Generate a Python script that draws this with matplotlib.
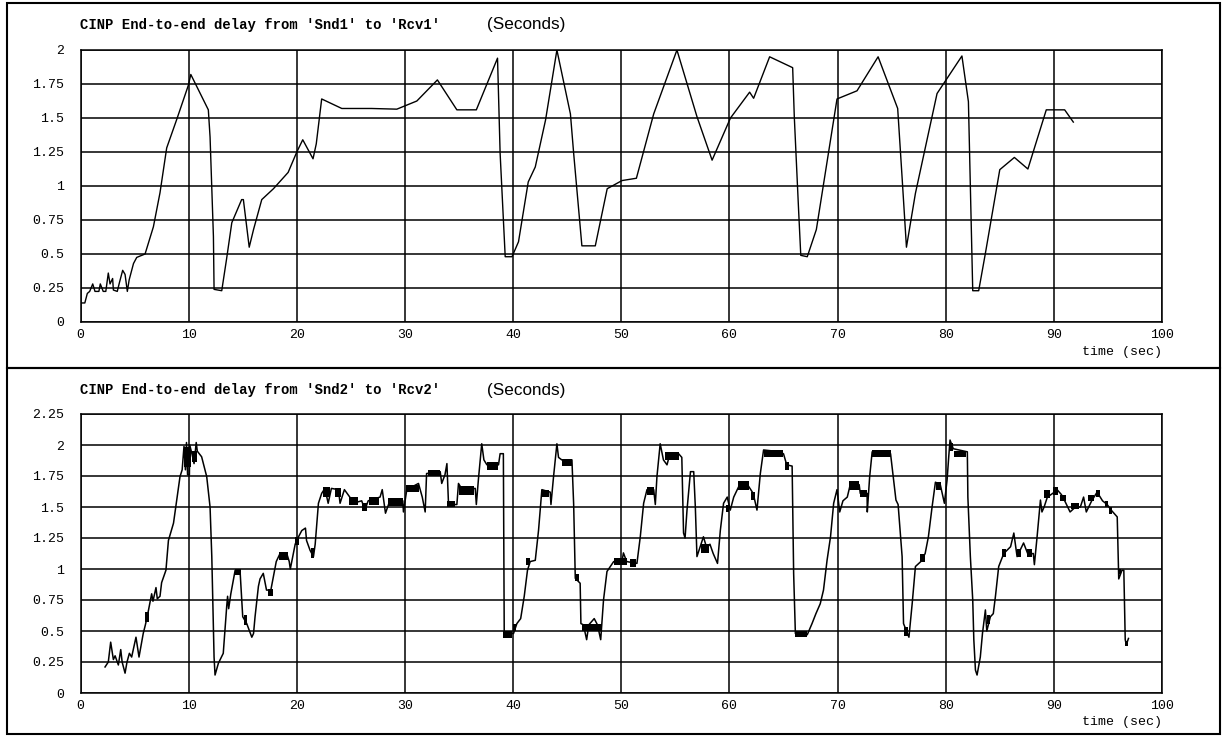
import matplotlib
matplotlib.use('Agg')
import matplotlib.pyplot as plt
from matplotlib.patches import Rectangle

# Snd1 -> Rcv1 delay (sec)
top_t = [0.1, 0.4, 0.63, 0.85, 1.13, 1.34, 1.7, 1.83, 2.1, 2.34, 2.57, 2.73, 2.97, 3.04,
         3.4, 3.6, 3.9, 4.12, 4.33, 4.5, 4.9, 5.2, 5.97, 6.74, 7.35, 7.97, 8.9, 9.97, 10.2,
         11.82, 11.98, 12.29, 12.35, 13.06, 13.5, 13.99, 14.9, 15.06, 15.6, 16.0, 16.76,
         17.84, 19.2, 20.0, 20.55, 21.5, 21.8, 22.3, 24.16, 26.9, 29.25, 31.1, 33.0, 34.8,
         36.6, 38.56, 38.8, 39.27, 39.9, 40.5, 41.4, 42.05, 43.0, 44.05, 45.3, 45.6, 46.36,
         47.6, 48.7, 50.07, 51.4, 53.0, 55.15, 57.0, 58.4, 60.1, 61.87, 62.24, 63.72, 65.85,
         66.0, 66.4, 66.6, 67.2, 68.04, 69.95, 71.8, 73.75, 75.56, 75.97, 76.37, 77.2, 79.2,
         81.5, 82.1, 82.5, 83.05, 83.67, 85.0, 86.35, 87.6, 89.3, 91.0, 91.8]
top_d = [0.14, 0.14, 0.21, 0.225, 0.28, 0.225, 0.225, 0.28, 0.225, 0.225, 0.36, 0.28, 0.32, 0.235,
         0.225, 0.29, 0.38, 0.35, 0.225, 0.31, 0.43, 0.475, 0.5, 0.70, 0.95, 1.28, 1.49, 1.74, 1.82,
         1.56, 1.36, 0.63, 0.24, 0.23, 0.46, 0.73, 0.9, 0.9, 0.55, 0.68, 0.9,
         0.98, 1.1, 1.25, 1.34, 1.2, 1.31, 1.64, 1.57, 1.57, 1.565, 1.625, 1.78, 1.56,
         1.56, 1.94, 1.24, 0.48, 0.48, 0.59, 1.03, 1.14, 1.485, 2.0, 1.53, 1.24, 0.56,
         0.56, 0.98, 1.04, 1.057, 1.53, 2.0, 1.51, 1.19, 1.50, 1.69, 1.645, 1.95, 1.87,
         1.51, 0.82, 0.49, 0.48, 0.68, 1.64, 1.70, 1.95, 1.57, 1.06, 0.55, 0.946, 1.68,
         1.956, 1.62, 0.23, 0.23, 0.505, 1.12, 1.21, 1.125, 1.56, 1.56, 1.47]

# Snd2 -> Rcv2 delay (sec)
bot_t = [2.27, 2.57, 2.79, 3.04, 3.2, 3.5, 3.72, 3.85, 4.12, 4.3, 4.52, 4.73, 5.13, 5.41, 5.8,
         6.0, 6.18, 6.4, 6.58, 6.7, 6.98, 7.1, 7.35, 7.5, 7.9, 8.13, 8.6, 8.9, 9.2, 9.4, 9.57,
         9.7, 9.8, 9.9, 10.07, 10.1, 10.3, 10.5, 10.7, 10.8, 11.2, 11.67, 11.98, 12.14, 12.35,
         12.44, 12.75, 13.2, 13.52, 13.6, 13.7, 13.9, 14.3, 14.75, 15.0, 15.37, 15.84, 16.0,
         16.14, 16.45, 16.6, 16.9, 17.2, 17.6, 17.84, 18.1, 18.45, 19.07, 19.3, 19.4, 19.85,
         20.1, 20.46, 20.8, 20.9, 21.23, 21.54, 21.7, 21.85, 22.0, 22.3, 22.6, 22.9, 23.2,
         23.85, 24.0, 24.4, 24.9, 25.2, 26.0, 26.3, 26.6, 27.7, 27.9, 28.2, 28.6, 29.8, 29.86,
         30.17, 31.25, 31.6, 31.87, 32.0, 33.26, 33.4, 33.7, 33.88, 34.03, 34.8, 34.95, 35.3,
         36.5, 36.6, 36.8, 37.1, 37.3, 37.58, 38.65, 38.8, 39.1, 39.18, 40.04, 40.35, 40.7,
         41.03, 41.33, 41.58, 42.05, 42.35, 42.66, 43.43, 43.5, 43.74, 44.05, 44.2, 44.5,
         45.44, 45.6, 45.75, 46.2, 46.27, 46.5, 46.8, 47.0, 47.5, 47.8, 48.1, 48.2, 48.36,
         48.68, 49.3, 50.07, 50.2, 50.5, 51.45, 51.76, 52.07, 52.38, 53.0, 53.15, 53.3, 53.6,
         53.9, 54.23, 54.5, 55.3, 55.6, 55.76, 55.9, 56.08, 56.4, 56.7, 56.85, 57.0, 57.6,
         57.9, 58.2, 58.5, 58.9, 59.16, 59.46, 59.8, 60.08, 60.4, 61.0, 61.6, 62.2, 62.55,
         62.86, 63.16, 64.2, 65.0, 65.3, 65.8, 65.94, 66.1, 67.2, 67.64, 68.0, 68.4, 68.7,
         69.03, 69.35, 69.64, 69.95, 70.2, 70.5, 70.9, 71.2, 72.0, 72.1, 72.73, 72.75, 72.97,
         73.2, 74.9, 75.4, 75.6, 75.8, 75.97, 76.1, 76.6, 76.9, 77.2, 77.7, 78.1, 78.4, 78.74,
         79.05, 79.5, 79.88, 80.13, 80.28, 80.4, 80.7, 82.0, 82.05, 82.28, 82.5, 82.6, 82.75,
         82.9, 83.2, 83.4, 83.67, 83.8, 84.13, 84.4, 84.6, 84.9, 85.37, 86.0, 86.3, 86.6,
         87.2, 87.6, 88.1, 88.2, 88.45, 88.76, 88.9, 89.1, 89.4, 89.9, 90.3, 90.7, 91.06,
         91.5, 92.0, 92.45, 92.75, 93.0, 93.5, 94.0, 94.5, 94.93, 95.3, 95.86, 96.0, 96.3,
         96.47, 96.6, 96.7, 96.9]
bot_d = [0.21, 0.25, 0.41, 0.27, 0.3, 0.226, 0.35, 0.25, 0.16, 0.25, 0.32, 0.29, 0.45, 0.29, 0.48,
         0.55, 0.62, 0.72, 0.80, 0.74, 0.85, 0.76, 0.78, 0.89, 0.99, 1.23, 1.37, 1.56, 1.745, 1.8, 1.99,
         1.8, 2.02, 1.76, 1.76, 2.0, 1.93, 1.85, 2.02, 1.95, 1.905, 1.745, 1.50, 1.10, 0.29,
         0.145, 0.24, 0.32, 0.70, 0.78, 0.68, 0.8, 0.99, 0.99, 0.615, 0.56, 0.45, 0.48,
         0.615, 0.86, 0.92, 0.965, 0.83, 0.83, 0.94, 1.06, 1.125, 1.125, 1.06, 1.0, 1.2,
         1.25, 1.31, 1.33, 1.23, 1.15, 1.10, 1.2, 1.37, 1.53, 1.61, 1.65, 1.53, 1.65,
         1.64, 1.53, 1.64, 1.58, 1.53, 1.55, 1.476, 1.55, 1.58, 1.64, 1.45, 1.55, 1.55, 1.46,
         1.64, 1.69, 1.58, 1.46, 1.77, 1.785, 1.69, 1.76, 1.85, 1.52, 1.52, 1.69, 1.64,
         1.65, 1.52, 1.73, 2.01, 1.88, 1.84, 1.84, 1.93, 1.93, 0.48, 0.48, 0.56, 0.6,
         0.78, 0.99, 1.06, 1.07, 1.31, 1.64, 1.62, 1.52, 1.745, 2.01, 1.9, 1.88,
         1.88, 1.52, 0.925, 0.885, 0.56, 0.55, 0.43, 0.55, 0.6, 0.55, 0.43, 0.55, 0.75,
         0.98, 1.06, 1.06, 1.13, 1.06, 1.045, 1.26, 1.53, 1.64, 1.64, 1.52, 1.745, 2.01,
         1.88, 1.84, 1.93, 1.93, 1.9, 1.29, 1.25, 1.475, 1.785, 1.785, 1.50, 1.10, 1.26,
         1.17, 1.2, 1.125, 1.045, 1.31, 1.53, 1.58, 1.475, 1.58, 1.69, 1.69, 1.61, 1.475,
         1.77, 1.96, 1.95, 1.93, 1.84, 1.83, 0.965, 0.48, 0.47, 0.56, 0.64, 0.72, 0.83,
         1.07, 1.26, 1.53, 1.64, 1.46, 1.55, 1.58, 1.69, 1.68, 1.61, 1.61, 1.46, 1.745,
         1.945, 1.93, 1.556, 1.52, 1.29, 1.10, 0.56, 0.45, 0.72, 1.02, 1.06, 1.125, 1.26, 1.50,
         1.70, 1.68, 1.53, 1.72, 1.905, 2.04, 1.97, 1.945, 1.58, 1.10, 0.75, 0.43, 0.185,
         0.145, 0.29, 0.48, 0.67, 0.5, 0.615, 0.64, 0.78, 1.02, 1.125, 1.18, 1.29, 1.10,
         1.21, 1.12, 1.125, 1.035, 1.26, 1.556, 1.46, 1.5, 1.58, 1.61, 1.64, 1.6, 1.54,
         1.46, 1.5, 1.50, 1.58, 1.46, 1.55, 1.62, 1.55, 1.52, 1.475, 1.42, 0.92, 0.99,
         0.99, 0.43, 0.39, 0.44]

# dense jitter regions in the Snd2 trace: (t0, t1, low, high)
bot_blocks = [
    (6.0, 6.3, 0.57, 0.65), (9.6, 10.2, 1.82, 1.98), (10.3, 10.8, 1.86, 1.95),
    (14.3, 14.8, 0.95, 1.0), (15.1, 15.4, 0.55, 0.63), (17.3, 17.8, 0.78, 0.84),
    (18.4, 19.2, 1.07, 1.14), (19.8, 20.2, 1.19, 1.26), (21.3, 21.6, 1.09, 1.17),
    (22.4, 23.1, 1.58, 1.66), (23.5, 24.1, 1.58, 1.65), (24.8, 25.7, 1.52, 1.58),
    (26.0, 26.5, 1.47, 1.53), (26.7, 27.6, 1.52, 1.58), (28.4, 29.8, 1.51, 1.57),
    (30.1, 31.3, 1.62, 1.68), (32.1, 33.2, 1.75, 1.8), (33.9, 34.6, 1.5, 1.55),
    (35.0, 36.4, 1.6, 1.67), (37.6, 38.6, 1.8, 1.86), (39.1, 39.9, 0.44, 0.5),
    (40.0, 40.3, 0.5, 0.56), (41.2, 41.6, 1.03, 1.09), (42.6, 43.3, 1.58, 1.64),
    (44.5, 45.4, 1.83, 1.89), (45.7, 46.1, 0.9, 0.96), (46.4, 48.2, 0.5, 0.56),
    (49.3, 50.5, 1.03, 1.09), (50.8, 51.4, 1.02, 1.08), (52.4, 53.0, 1.6, 1.66),
    (54.0, 55.3, 1.88, 1.94), (57.4, 58.1, 1.13, 1.2), (59.7, 60.0, 1.46, 1.52),
    (60.8, 61.8, 1.64, 1.71), (62.0, 62.4, 1.56, 1.62), (63.2, 65.0, 1.9, 1.96),
    (65.1, 65.5, 1.8, 1.86), (66.1, 67.2, 0.45, 0.5), (71.1, 72.0, 1.64, 1.71),
    (72.1, 72.7, 1.58, 1.64), (73.2, 74.9, 1.9, 1.96), (76.1, 76.5, 0.46, 0.53),
    (77.6, 78.1, 1.06, 1.12), (79.1, 79.6, 1.64, 1.7), (80.4, 80.7, 1.95, 2.02),
    (80.8, 81.9, 1.9, 1.95), (83.8, 84.1, 0.56, 0.63), (85.2, 85.6, 1.1, 1.16),
    (86.6, 87.0, 1.1, 1.16), (87.5, 88.0, 1.1, 1.16), (89.1, 89.6, 1.57, 1.64),
    (89.9, 90.4, 1.6, 1.66), (90.6, 91.1, 1.55, 1.6), (91.6, 92.3, 1.48, 1.53),
    (93.2, 93.7, 1.55, 1.6), (93.9, 94.3, 1.58, 1.64), (94.7, 95.0, 1.5, 1.55),
    (95.1, 95.4, 1.44, 1.5), (95.9, 96.2, 0.96, 1.0), (96.6, 96.9, 0.38, 0.42),
]

top_yticks = [0, 0.25, 0.5, 0.75, 1, 1.25, 1.5, 1.75, 2]
bot_yticks = [0, 0.25, 0.5, 0.75, 1, 1.25, 1.5, 1.75, 2, 2.25]
xticks = [0, 10, 20, 30, 40, 50, 60, 70, 80, 90, 100]

mono = 'Liberation Mono'
W, H = 1224, 736
fig = plt.figure(figsize=(W / 100, H / 100), dpi=100)


def fx(px):
    return px / W


def fy(py):
    return 1 - py / H


def setup(ax, yticks):
    ax.set_xlim(0, 100)
    ax.set_ylim(0, yticks[-1])
    ax.set_xticks(xticks)
    ax.set_yticks(yticks)
    ax.set_xticklabels([str(v) for v in xticks], family=mono, fontsize=9.5)
    ax.set_yticklabels(['%g' % v for v in yticks], family=mono, fontsize=9.5)
    ax.tick_params(axis='both', length=0)
    ax.tick_params(axis='y', pad=12)
    ax.tick_params(axis='x', pad=5)
    ax.grid(True, color='black', linewidth=1.1)
    for s in ax.spines.values():
        s.set_color('black')
        s.set_linewidth(1.1)


# panel frames
fig.patches.append(Rectangle((fx(7), fy(368)), fx(1213), 365 / H, transform=fig.transFigure,
                             fill=False, edgecolor='black', linewidth=1.5))
fig.patches.append(Rectangle((fx(7), fy(734)), fx(1213), 366 / H, transform=fig.transFigure,
                             fill=False, edgecolor='black', linewidth=1.5))

ax1 = fig.add_axes([fx(80.5), fy(322), fx(1162 - 80.5), 272 / H])
setup(ax1, top_yticks)
ax1.plot(top_t, top_d, color='black', linewidth=1.0)

ax2 = fig.add_axes([fx(80.5), fy(693), fx(1162 - 80.5), 279 / H])
setup(ax2, bot_yticks)
ax2.plot(bot_t, bot_d, color='black', linewidth=1.1)
for t0, t1, lo, hi in bot_blocks:
    ax2.fill_between([t0, t1], lo, hi, color='black', linewidth=0)

for ty, n in [(25, '1'), (390, '2')]:
    fig.text(fx(80), fy(ty), "CINP End-to-end delay from 'Snd%s' to 'Rcv%s'" % (n, n),
             family=mono, fontsize=10, fontweight='bold', va='center', ha='left')
    fig.text(fx(487), fy(ty), '(Seconds)', family='Liberation Sans', fontsize=12.3,
             va='center', ha='left')

fig.text(fx(1162), fy(352), 'time (sec)', family=mono, fontsize=9.6, ha='right', va='center')
fig.text(fx(1162), fy(722), 'time (sec)', family=mono, fontsize=9.6, ha='right', va='center')

fig.savefig('out.png', dpi=100)
